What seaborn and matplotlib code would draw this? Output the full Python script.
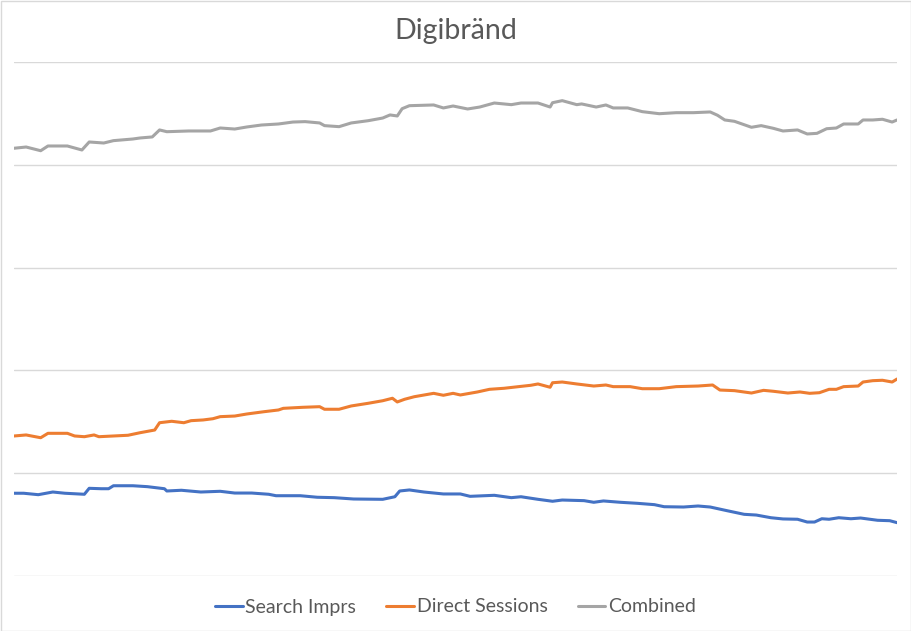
import matplotlib
matplotlib.use("Agg")
import matplotlib.pyplot as plt
import matplotlib.patches as mpatches
import seaborn as sns
import pandas as pd

# ---- data (day index, value) ----
search_days = [0, 4, 10, 16, 21, 29, 31, 36, 39, 41, 49, 55, 62, 63, 69, 77, 85, 91, 98, 105,
               108, 118, 125, 132, 140, 152, 157, 159, 163, 169, 177, 184, 188, 198, 205, 209,
               216, 222, 226, 235, 239, 243, 250, 257, 264, 268, 276, 282, 287, 294, 301, 306,
               312, 317, 323, 327, 330, 333, 336, 340, 345, 349, 356, 361, 364]
search_vals = [805, 805, 791, 817, 805, 795, 853, 849, 849, 878, 878, 869, 849, 827, 834, 817,
               824, 807, 807, 795, 781, 781, 766, 762, 749, 746, 771, 827, 837, 817, 798, 798,
               775, 785, 762, 771, 746, 727, 739, 733, 717, 730, 717, 707, 694, 674, 671, 681,
               671, 635, 600, 593, 567, 555, 552, 525, 525, 557, 552, 567, 557, 564, 542, 538, 519]

direct_days = [0, 5, 11, 14, 22, 25, 29, 33, 35, 47, 52, 58, 60, 65, 70, 73, 78, 82, 85, 91,
               96, 103, 109, 111, 119, 126, 128, 134, 139, 146, 152, 156, 158, 161, 165, 173,
               177, 181, 184, 191, 196, 202, 208, 213, 216, 221, 222, 226, 232, 239, 244, 247,
               254, 259, 266, 273, 282, 288, 291, 297, 304, 309, 313, 319, 324, 328, 332, 336,
               339, 342, 348, 350, 354, 358, 362, 364]
direct_vals = [1362, 1372, 1345, 1388, 1388, 1362, 1355, 1372, 1355, 1369, 1394, 1420, 1491,
               1505, 1491, 1511, 1518, 1530, 1550, 1556, 1576, 1598, 1615, 1631, 1641, 1647,
               1622, 1622, 1654, 1680, 1705, 1729, 1693, 1719, 1744, 1777, 1758, 1777, 1761,
               1790, 1816, 1826, 1842, 1855, 1868, 1836, 1880, 1887, 1868, 1848, 1858, 1842,
               1842, 1822, 1822, 1842, 1848, 1858, 1809, 1803, 1780, 1806, 1797, 1780, 1790,
               1777, 1783, 1816, 1816, 1842, 1848, 1887, 1900, 1904, 1887, 1916]

combined_days = [0, 5, 11, 14, 22, 28, 31, 37, 41, 49, 52, 57, 60, 63, 72, 81, 85, 91, 96, 102,
                 109, 115, 120, 126, 128, 134, 139, 146, 152, 155, 158, 160, 163, 173, 177, 181,
                 187, 192, 198, 205, 209, 216, 221, 222, 226, 232, 234, 240, 244, 247, 253, 259,
                 266, 273, 280, 287, 290, 293, 297, 304, 308, 313, 317, 323, 327, 331, 335, 339,
                 342, 348, 350, 354, 358, 362, 364]
combined_vals = [4161, 4173, 4137, 4183, 4183, 4144, 4222, 4212, 4235, 4251, 4261, 4271, 4339,
                 4322, 4329, 4329, 4358, 4348, 4368, 4387, 4397, 4416, 4420, 4407, 4381, 4371,
                 4407, 4429, 4455, 4485, 4475, 4546, 4575, 4582, 4553, 4572, 4543, 4562, 4601,
                 4585, 4601, 4601, 4562, 4604, 4624, 4585, 4592, 4562, 4582, 4553, 4553, 4517,
                 4497, 4507, 4507, 4514, 4482, 4436, 4423, 4365, 4381, 4355, 4329, 4339, 4300,
                 4306, 4351, 4358, 4397, 4397, 4436, 4436, 4443, 4416, 4436]

series_names = ["Search Imprs", "Direct Sessions", "Combined"]
series_colors = ["#4472C4", "#ED7D31", "#A5A5A5"]
title_text = "Digibränd"

frames = []
for name, d, v in zip(series_names,
                      [search_days, direct_days, combined_days],
                      [search_vals, direct_vals, combined_vals]):
    frames.append(pd.DataFrame({"day": d, "value": v, "series": name}))
df = pd.concat(frames, ignore_index=True)

sns.set_theme(style="white")
plt.rcParams["font.family"] = ["Lato", "DejaVu Sans"]

fig = plt.figure(figsize=(9.11, 6.31), dpi=100)
ax = fig.add_axes([14 / 911, 1 - 576 / 631, (897 - 14) / 911, (576 - 62) / 631])

sns.lineplot(data=df, x="day", y="value", hue="series", hue_order=series_names,
             palette=dict(zip(series_names, series_colors)), linewidth=2.2, ax=ax,
             estimator=None, sort=False)

ax.set_xlim(0, 364)
ax.set_ylim(0, 5000)
ax.set_yticks(range(0, 5001, 1000))
ax.set_xticks([])
ax.yaxis.grid(True, color="#d9d9d9", linewidth=1.0)
ax.set_axisbelow(True)
ax.tick_params(axis="y", length=0, labelleft=False)
for s in ax.spines.values():
    s.set_visible(False)
ax.set_xlabel("")
ax.set_ylabel("")

fig.text(0.5, 1 - 31 / 631, title_text, ha="center", va="center",
         fontsize=20.5, color="#595959")

handles, labels = ax.get_legend_handles_labels()
if ax.legend_:
    ax.legend_.remove()
fig.legend(handles, labels, loc="center", bbox_to_anchor=(0.5, 1 - 607 / 631), ncol=3,
           frameon=False, fontsize=14, handlelength=1.4, handletextpad=0.15,
           columnspacing=1.55, labelcolor="#595959")

fig.patches.append(mpatches.Rectangle((0.5 / 911, 0.5 / 631), 1 - 1 / 911, 1 - 1 / 631,
                                      transform=fig.transFigure, fill=False,
                                      edgecolor="#d9d9d9", linewidth=1))

fig.savefig("out.png", dpi=100)
